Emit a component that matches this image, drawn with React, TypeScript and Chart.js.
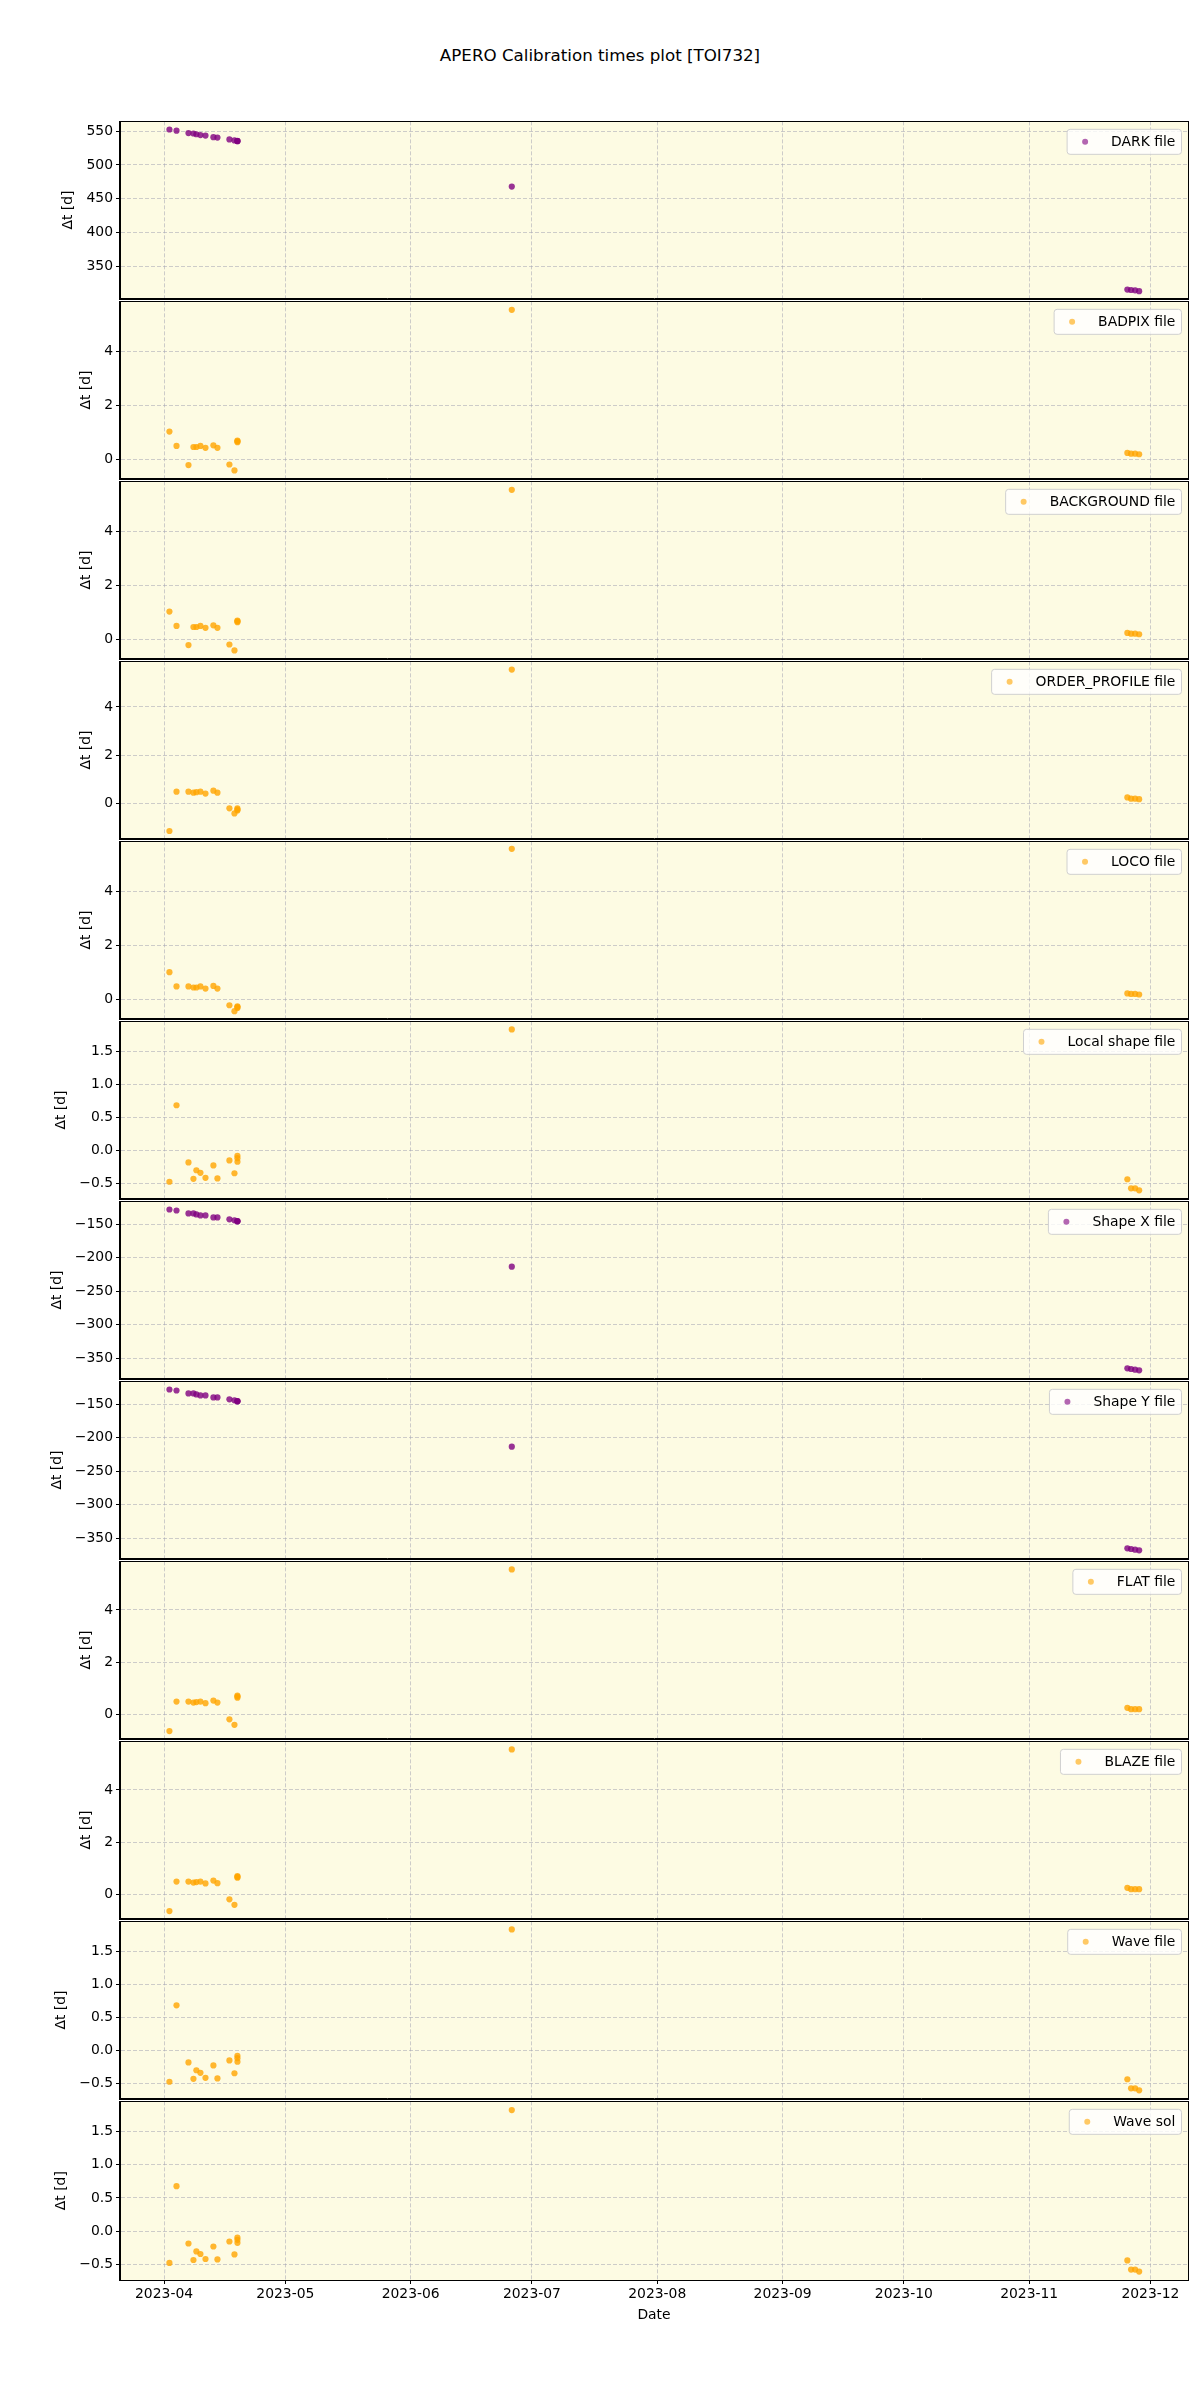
import React, { useEffect, useRef } from 'react';
import { Chart, registerables } from 'chart.js';

Chart.register(...registerables);

// ---------- data ----------
const OBS_DATES = [
  '2023-04-02T08:00', '2023-04-04T02:00', '2023-04-07T01:00', '2023-04-08T06:30',
  '2023-04-09T00:00', '2023-04-10T00:00', '2023-04-11T06:00', '2023-04-13T05:00',
  '2023-04-14T05:00', '2023-04-17T04:00', '2023-04-18T10:00', '2023-04-19T03:30',
  '2023-04-19T03:40', '2023-04-19T03:50', '2023-06-26T00:30', '2023-11-25T07:00',
  '2023-11-26T05:00', '2023-11-27T05:00', '2023-11-28T05:00',
];

const DARK = [552.5, 550.8, 547.2, 546.6, 545.5, 544.3, 543.6, 541.2, 540.6, 537.8, 536.4, 535.6, 535.4, 535.2, 468.0, 315.7, 315.0, 314.5, 313.3];
const BADPIX = [1.04, 0.51, -0.2, 0.47, 0.47, 0.51, 0.44, 0.53, 0.44, -0.18, -0.4, 0.71, 0.65, 0.68, 5.56, 0.25, 0.22, 0.22, 0.2];
const BACKGROUND = [1.04, 0.51, -0.2, 0.47, 0.47, 0.51, 0.44, 0.53, 0.44, -0.18, -0.4, 0.71, 0.65, 0.68, 5.56, 0.25, 0.22, 0.22, 0.2];
const ORDER_PROFILE = [-1.14, 0.49, 0.49, 0.45, 0.47, 0.49, 0.41, 0.53, 0.45, -0.2, -0.41, -0.2, -0.29, -0.25, 5.55, 0.25, 0.2, 0.2, 0.18];
const LOCO = [1.01, 0.48, 0.48, 0.44, 0.44, 0.48, 0.4, 0.5, 0.4, -0.22, -0.44, -0.26, -0.32, -0.29, 5.6, 0.22, 0.2, 0.2, 0.18];
const LOCAL_SHAPE = [-0.478, 0.681, -0.185, -0.433, -0.304, -0.343, -0.418, -0.23, -0.428, -0.155, -0.349, -0.085, -0.12, -0.175, 1.83, -0.44, -0.578, -0.578, -0.607];
const SHAPE_X = [-127.9, -129.4, -133.8, -133.8, -135.3, -136.8, -136.8, -139.7, -139.7, -142.6, -144.1, -145.2, -145.4, -145.6, -213.2, -365.0, -366.0, -367.0, -368.0];
const SHAPE_Y = [-127.9, -129.4, -133.8, -133.8, -135.3, -136.8, -136.8, -139.7, -139.7, -142.6, -144.1, -145.2, -145.4, -145.6, -213.2, -365.0, -366.0, -367.0, -368.0];
const FLAT = [-0.64, 0.49, 0.49, 0.45, 0.47, 0.49, 0.43, 0.53, 0.45, -0.19, -0.4, 0.72, 0.64, 0.68, 5.55, 0.25, 0.2, 0.2, 0.2];
const BLAZE = [-0.64, 0.49, 0.49, 0.45, 0.47, 0.49, 0.42, 0.53, 0.43, -0.19, -0.4, 0.7, 0.64, 0.67, 5.55, 0.25, 0.2, 0.2, 0.2];
const WAVE_FILE = [-0.478, 0.68, -0.185, -0.433, -0.304, -0.343, -0.418, -0.23, -0.428, -0.155, -0.349, -0.085, -0.12, -0.175, 1.83, -0.44, -0.578, -0.578, -0.607];
const WAVE_SOL = [-0.478, 0.676, -0.185, -0.433, -0.304, -0.343, -0.418, -0.23, -0.424, -0.155, -0.349, -0.096, -0.13, -0.175, 1.82, -0.44, -0.578, -0.578, -0.607];

const LABELS = ['DARK file', 'BADPIX file', 'BACKGROUND file', 'ORDER_PROFILE file', 'LOCO file', 'Local shape file', 'Shape X file', 'Shape Y file', 'FLAT file', 'BLAZE file', 'Wave file', 'Wave sol'];

const DARK_TICKS = [350, 400, 450, 500, 550];
const SMALL_TICKS = [0, 2, 4];
const FRAC_TICKS = [-0.5, 0.0, 0.5, 1.0, 1.5];
const SHAPE_TICKS = [-350, -300, -250, -200, -150];

const DARK_RANGE = [302.2, 564.6];
const BADPIX_RANGE = [-0.706, 5.876];
const ORDER_RANGE = [-1.457, 5.89];
const LOCO_RANGE = [-0.72, 5.88];
const FRAC_RANGE = [-0.734, 1.952];
const SHAPE_RANGE = [-380.4, -115.7];
const FLAT_RANGE = [-0.93, 5.86];

const MONTH_TICKS = ['2023-04', '2023-05', '2023-06', '2023-07', '2023-08', '2023-09', '2023-10', '2023-11', '2023-12'];
const X_RANGE = ['2023-03-21T02:30', '2023-12-10T07:00'];

// ---------- styles ----------
const PURPLE = 'rgba(128,0,128,0.8)';
const PURPLE_LEG = 'rgba(128,0,128,0.6)';
const ORANGE = 'rgba(255,165,0,0.8)';
const ORANGE_LEG = 'rgba(255,165,0,0.6)';
const BG = '#fdfbe3';
const GRID = 'rgba(165,165,180,0.55)';
const FONT = '"DejaVu Sans", "Liberation Sans", sans-serif';
const FS = 13.9;

const PANELS = [
  { values: DARK, ticks: DARK_TICKS, range: DARK_RANGE, dec: 0, c: PURPLE, lc: PURPLE_LEG },
  { values: BADPIX, ticks: SMALL_TICKS, range: BADPIX_RANGE, dec: 0, c: ORANGE, lc: ORANGE_LEG },
  { values: BACKGROUND, ticks: SMALL_TICKS, range: BADPIX_RANGE, dec: 0, c: ORANGE, lc: ORANGE_LEG },
  { values: ORDER_PROFILE, ticks: SMALL_TICKS, range: ORDER_RANGE, dec: 0, c: ORANGE, lc: ORANGE_LEG },
  { values: LOCO, ticks: SMALL_TICKS, range: LOCO_RANGE, dec: 0, c: ORANGE, lc: ORANGE_LEG },
  { values: LOCAL_SHAPE, ticks: FRAC_TICKS, range: FRAC_RANGE, dec: 1, c: ORANGE, lc: ORANGE_LEG },
  { values: SHAPE_X, ticks: SHAPE_TICKS, range: SHAPE_RANGE, dec: 0, c: PURPLE, lc: PURPLE_LEG },
  { values: SHAPE_Y, ticks: SHAPE_TICKS, range: SHAPE_RANGE, dec: 0, c: PURPLE, lc: PURPLE_LEG },
  { values: FLAT, ticks: SMALL_TICKS, range: FLAT_RANGE, dec: 0, c: ORANGE, lc: ORANGE_LEG },
  { values: BLAZE, ticks: SMALL_TICKS, range: FLAT_RANGE, dec: 0, c: ORANGE, lc: ORANGE_LEG },
  { values: WAVE_FILE, ticks: FRAC_TICKS, range: FRAC_RANGE, dec: 1, c: ORANGE, lc: ORANGE_LEG },
  { values: WAVE_SOL, ticks: FRAC_TICKS, range: FRAC_RANGE, dec: 1, c: ORANGE, lc: ORANGE_LEG },
];

const toMs = (s: string) => new Date(s + 'Z').getTime();
const fmt = (v: number, d: number) => (v < 0 ? '\u2212' : '') + Math.abs(v).toFixed(d);

const PLOT_TOP = 120;
const PANEL_H = 180;
const PAD_TOP = 10;
const X_AXIS_H = 48;

const decorPlugin = {
  id: 'decor',
  beforeDraw(chart: any) {
    const { ctx, chartArea: a } = chart;
    ctx.save();
    ctx.fillStyle = BG;
    ctx.fillRect(a.left, a.top, a.right - a.left, a.bottom - a.top);
    ctx.restore();
  },
  afterDraw(chart: any) {
    const { ctx, chartArea: a } = chart;
    const opts = chart.options.plugins.decor || {};
    ctx.save();
    // frame (all four spines), aligned so neighbouring panels share one line
    ctx.strokeStyle = '#000';
    ctx.lineWidth = 1;
    const l = Math.round(a.left) - 0.5;
    const r = Math.round(a.right) + 0.5;
    const t = Math.round(a.top) + 0.5;
    const b = Math.round(a.bottom) + 0.5;
    ctx.strokeRect(l, t, r - l, b - t);

    // y label
    ctx.font = `${FS}px ${FONT}`;
    const ys = chart.scales.y;
    let maxW = 0;
    for (const tk of ys.ticks) {
      const w = ctx.measureText(String(tk.label)).width;
      if (w > maxW) maxW = w;
    }
    const lx = a.left - 7 - maxW - 17.6;
    const ly = (a.top + a.bottom) / 2;
    ctx.translate(lx, ly);
    ctx.rotate(-Math.PI / 2);
    ctx.fillStyle = '#000';
    ctx.textAlign = 'center';
    ctx.textBaseline = 'middle';
    ctx.fillText('\u0394t [d]', 0, 0);
    ctx.setTransform(1, 0, 0, 1, 0, 0);

    // legend (upper right)
    const ds = chart.data.datasets[0];
    const tw = ctx.measureText(ds.label).width;
    const right = a.right - 7;
    const top = a.top + 7.5;
    const bh = 25;
    const textRight = right - 5.6;
    const textLeft = textRight - tw;
    const left = textLeft - 44.5;
    ctx.beginPath();
    (ctx as any).roundRect(left + 0.5, top + 0.5, right - left, bh, 3);
    ctx.fillStyle = 'rgba(255,255,255,0.8)';
    ctx.fill();
    ctx.strokeStyle = '#d0d0d0';
    ctx.lineWidth = 1;
    ctx.stroke();
    ctx.beginPath();
    ctx.arc(left + 18.5, top + bh / 2 + 0.5, 3, 0, Math.PI * 2);
    ctx.fillStyle = opts.legendColor || ds.backgroundColor;
    ctx.fill();
    ctx.fillStyle = '#000';
    ctx.textAlign = 'left';
    ctx.textBaseline = 'middle';
    ctx.fillText(ds.label, textLeft, top + bh / 2 + 1);
    ctx.restore();
  },
};

function Panel({ idx }: { idx: number }) {
  const ref = useRef<HTMLCanvasElement>(null);
  const last = idx === PANELS.length - 1;
  const cfg = PANELS[idx];
  const height = PAD_TOP + PANEL_H + (last ? X_AXIS_H : PAD_TOP);
  const top = PLOT_TOP + PANEL_H * idx - PAD_TOP;

  useEffect(() => {
    if (!ref.current) return;
    const chart = new Chart(ref.current, {
      type: 'scatter',
      data: {
        datasets: [
          {
            label: LABELS[idx],
            data: OBS_DATES.map((d, i) => ({ x: toMs(d), y: cfg.values[i] })),
            backgroundColor: cfg.c,
            borderWidth: 0,
            pointRadius: 3.1,
            pointHoverRadius: 3.1,
          },
        ],
      },
      options: {
        animation: false,
        responsive: false,
        devicePixelRatio: 1,
        events: [],
        layout: { padding: { top: PAD_TOP, bottom: last ? 0 : PAD_TOP, left: 0, right: 12 } },
        plugins: {
          legend: { display: false },
          tooltip: { enabled: false },
          decor: { legendColor: cfg.lc },
        } as any,
        scales: {
          x: {
            type: 'linear',
            min: toMs(X_RANGE[0]),
            max: toMs(X_RANGE[1]),
            afterBuildTicks: (s: any) => {
              s.ticks = MONTH_TICKS.map((m) => ({ value: toMs(m + '-01T00:00') }));
            },
            afterFit: (s: any) => {
              s.height = last ? X_AXIS_H : 0;
            },
            ticks: {
              display: last,
              autoSkip: false,
              maxRotation: 0,
              padding: 2,
              color: '#000',
              font: { family: FONT, size: FS },
              callback: (v: any) => new Date(Number(v)).toISOString().slice(0, 7),
            },
            grid: {
              color: GRID,
              lineWidth: 1,
              drawTicks: last,
              tickLength: 4,
              tickColor: '#000',
              tickWidth: 1,
              tickBorderDash: [],
            },
            border: { display: true, color: '#000', width: 1, dash: [4, 2] },
            title: {
              display: last,
              text: 'Date',
              color: '#000',
              font: { family: FONT, size: FS },
              padding: { top: 0, bottom: 4 },
            },
          },
          y: {
            type: 'linear',
            min: cfg.range[0],
            max: cfg.range[1],
            afterBuildTicks: (s: any) => {
              s.ticks = cfg.ticks.map((v) => ({ value: v }));
            },
            afterFit: (s: any) => {
              s.width = 120;
            },
            ticks: {
              autoSkip: false,
              padding: 3,
              color: '#000',
              font: { family: FONT, size: FS },
              callback: (v: any) => fmt(Number(v), cfg.dec),
            },
            grid: {
              color: GRID,
              lineWidth: 1,
              drawTicks: true,
              tickLength: 4,
              tickColor: '#000',
              tickWidth: 1,
              tickBorderDash: [],
            },
            border: { display: true, color: '#000', width: 1, dash: [4, 2] },
          },
        },
      } as any,
      plugins: [decorPlugin],
    });
    return () => chart.destroy();
  }, []);

  return (
    <canvas
      ref={ref}
      width={1200}
      height={height}
      style={{ position: 'absolute', left: 0, top, width: 1200, height }}
    />
  );
}

export default function App() {
  return (
    <div style={{ position: 'absolute', left: 0, top: 0, width: 1200, height: 2400, background: '#fff', overflow: 'hidden' }}>
      <div
        style={{
          position: 'absolute',
          left: 0,
          top: 45,
          width: 1200,
          textAlign: 'center',
          fontFamily: FONT,
          fontSize: '16.7px',
          lineHeight: '20px',
          color: '#000',
        }}
      >
        APERO Calibration times plot [TOI732]
      </div>
      {PANELS.map((_, i) => (
        <Panel key={i} idx={i} />
      ))}
    </div>
  );
}
